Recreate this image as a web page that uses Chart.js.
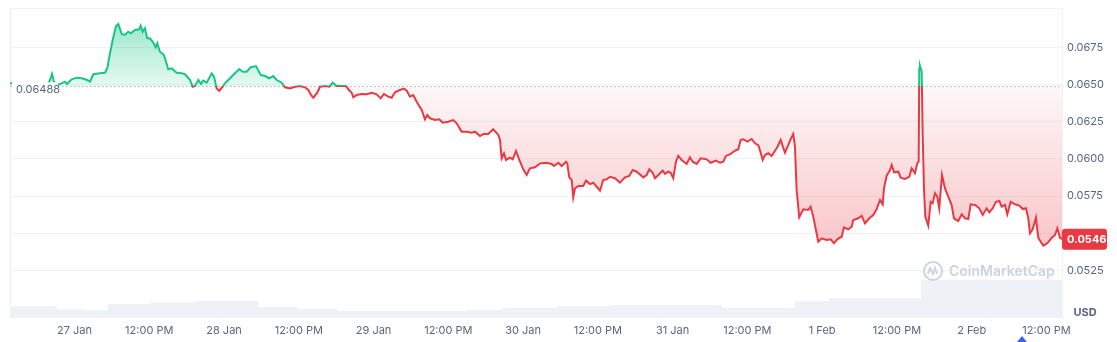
<!DOCTYPE html>
<html><head><meta charset="utf-8">
<script src="https://cdn.jsdelivr.net/npm/chart.js@4.4.1/dist/chart.umd.min.js"></script>
<style>html,body{margin:0;padding:0;background:#fff;}canvas{display:block;}</style>
</head><body>
<canvas id="c" width="1117" height="342"></canvas>
<script>
// Time in hours relative to 27 Jan 00:00
const hours = [
-10.35,-9.39,-8.10,-6.82,-5.54,-4.25,-3.93,-3.61,-3.29,-2.81,
-2.33,-1.52,-1.20,-0.45,0.35,1.16,2.05,2.49,3.02,4.09,
4.89,5.26,5.70,6.13,6.66,7.03,7.58,8.10,8.63,9.02,
9.71,10.40,10.62,10.95,11.31,11.68,12.12,12.65,13.03,13.29,
13.72,14.36,15.05,15.60,16.40,17.20,17.73,18.54,18.97,19.34,
19.87,20.30,20.67,21.22,22.02,22.39,22.82,23.24,23.88,24.15,
24.96,25.76,26.45,27.00,27.64,28.28,29.13,29.88,30.57,31.26,
31.91,32.45,33.25,33.78,34.59,35.39,36.19,36.99,37.52,38.07,
38.33,38.97,39.40,40.20,40.89,41.44,42.08,42.88,43.57,43.94,
44.49,44.74,45.29,46.09,46.90,47.70,48.50,49.14,49.67,50.36,
50.91,51.44,52.24,52.89,53.32,53.85,54.37,54.92,55.72,56.25,
56.62,57.05,57.86,58.55,59.09,59.99,60.79,61.34,62.14,62.94,
63.75,64.28,65.08,65.61,66.41,67.21,68.02,68.29,68.56,68.93,
69.25,69.89,70.33,70.86,71.39,72.03,72.57,73.10,73.91,74.71,
75.78,76.59,76.96,77.65,78.19,78.88,79.09,79.41,79.80,80.05,
80.33,80.85,81.66,82.09,82.73,83.26,83.81,84.34,84.87,85.41,
85.94,86.74,87.55,88.35,89.04,89.59,90.23,91.29,91.83,92.25,
92.80,93.17,93.70,94.40,94.77,95.30,95.68,96.10,96.53,96.90,
97.45,98.25,98.78,99.21,99.86,100.50,101.46,102.10,102.95,103.60,
104.13,104.56,105.31,106.00,106.53,106.92,107.34,107.98,108.68,109.21,
109.74,110.13,110.45,110.82,111.35,111.89,112.42,112.79,113.34,113.66,
114.03,114.56,114.94,115.36,115.63,115.90,116.32,116.97,117.77,118.15,
118.57,119.00,119.37,119.92,120.72,121.36,121.89,122.42,123.13,123.50,
124.19,124.73,124.99,125.79,126.34,126.87,127.56,128.20,128.75,129.28,
129.71,129.92,130.35,130.88,131.16,131.53,132.22,132.60,133.29,133.98,
134.36,134.89,135.26,135.49,135.58,135.69,135.97,136.13,136.34,136.55,
137.03,137.41,137.73,138.10,138.47,138.79,139.23,139.71,140.24,140.78,
141.15,141.84,142.39,142.92,143.45,143.83,144.52,145.21,145.76,146.40,
146.82,147.37,147.90,148.43,148.81,149.34,149.71,150.26,150.95,151.64,
152.18,152.71,153.08,153.35,153.79,154.31,154.68,155.49,156.13,156.84,
157.37,157.74,158.17,158.49
];
const price = [
0.06510,0.06500,0.06497,0.06503,0.06497,0.06503,0.06530,0.06571,0.06517,0.06497,
0.06503,0.06519,0.06503,0.06535,0.06546,0.06542,0.06530,0.06519,0.06569,0.06575,
0.06579,0.06609,0.06710,0.06799,0.06893,0.06907,0.06839,0.06833,0.06855,0.06844,
0.06866,0.06871,0.06895,0.06855,0.06878,0.06810,0.06810,0.06781,0.06750,0.06777,
0.06720,0.06698,0.06602,0.06609,0.06579,0.06575,0.06569,0.06530,0.06485,0.06490,
0.06530,0.06503,0.06526,0.06512,0.06575,0.06552,0.06474,0.06458,0.06490,0.06508,
0.06542,0.06575,0.06604,0.06586,0.06586,0.06616,0.06624,0.06564,0.06557,0.06542,
0.06557,0.06530,0.06512,0.06481,0.06474,0.06485,0.06490,0.06481,0.06463,0.06423,
0.06411,0.06445,0.06485,0.06490,0.06485,0.06512,0.06490,0.06490,0.06490,0.06468,
0.06445,0.06414,0.06429,0.06436,0.06434,0.06445,0.06434,0.06407,0.06436,0.06418,
0.06411,0.06448,0.06463,0.06472,0.06458,0.06418,0.06429,0.06384,0.06329,0.06266,
0.06295,0.06273,0.06261,0.06266,0.06243,0.06250,0.06261,0.06239,0.06183,0.06183,
0.06176,0.06183,0.06154,0.06167,0.06167,0.06199,0.06161,0.06127,0.06004,0.06038,
0.05993,0.06008,0.05997,0.06053,0.05993,0.05930,0.05892,0.05937,0.05944,0.05970,
0.05974,0.05966,0.05952,0.05974,0.05952,0.05981,0.05970,0.05876,0.05858,0.05742,
0.05802,0.05818,0.05818,0.05854,0.05831,0.05840,0.05813,0.05786,0.05858,0.05863,
0.05880,0.05870,0.05840,0.05876,0.05885,0.05925,0.05914,0.05876,0.05892,0.05930,
0.05907,0.05870,0.05892,0.05921,0.05899,0.05914,0.05907,0.05870,0.05981,0.06020,
0.05993,0.05966,0.06011,0.05981,0.05966,0.06004,0.05997,0.05974,0.05988,0.05974,
0.05981,0.06020,0.06033,0.06055,0.06065,0.06127,0.06132,0.06116,0.06134,0.06105,
0.06093,0.06042,0.05993,0.06026,0.06038,0.06020,0.06055,0.06078,0.06127,0.06087,
0.06042,0.06093,0.06132,0.06167,0.06082,0.05791,0.05608,0.05661,0.05657,0.05679,
0.05612,0.05522,0.05444,0.05466,0.05455,0.05460,0.05433,0.05460,0.05477,0.05540,
0.05527,0.05544,0.05589,0.05601,0.05618,0.05567,0.05601,0.05623,0.05663,0.05724,
0.05695,0.05802,0.05887,0.05925,0.05959,0.05910,0.05914,0.05874,0.05865,0.05880,
0.05937,0.05903,0.05970,0.05981,0.06609,0.06626,0.06586,0.06161,0.05802,0.05612,
0.05551,0.05712,0.05702,0.05769,0.05746,0.05668,0.05892,0.05802,0.05746,0.05690,
0.05601,0.05583,0.05628,0.05601,0.05596,0.05695,0.05690,0.05668,0.05623,0.05668,
0.05641,0.05668,0.05712,0.05717,0.05679,0.05690,0.05628,0.05712,0.05695,0.05686,
0.05663,0.05668,0.05601,0.05500,0.05529,0.05605,0.05470,0.05417,0.05433,0.05470,
0.05489,0.05534,0.05470,0.05460
];
const openPrice = 0.06488;
const lastPrice = 0.0546;
// Volume (USD millions), step segments
const volHours = [-10.35,-2.81,1.85,5.38,12.28,19.18,29.45,35.87,42.13,62.83,68.61,77.43,86.10,103.91,115.63,121.09,135.85,158.49];
const volume   = [1.20,0.87,0.77,1.43,1.57,1.70,1.10,0.93,0.70,0.80,1.03,1.20,1.30,1.03,1.67,1.97,3.83,3.83];
const tickHours = [0,12,24,36,48,60,72,84,96,108,120,132,144,156];
const tickLabels = ['27 Jan','12:00 PM','28 Jan','12:00 PM','29 Jan','12:00 PM','30 Jan','12:00 PM','31 Jan','12:00 PM','1 Feb','12:00 PM','2 Feb','12:00 PM'];
const priceTicks = [0.0525,0.0550,0.0575,0.0600,0.0625,0.0650,0.0675];

const GREEN = '#16c784', RED = '#ea3943', GRID = '#eff2f5', TXT = '#58667e';
const FONT = 'Inter, "Noto Sans", sans-serif';

function baseY(chart){ return chart.scales.y.getPixelForValue(openPrice); }

function lineColor(ctx){
  const chart = ctx.chart, a = chart.chartArea;
  if (!a || !chart.scales.y) return RED;
  const g = chart.ctx.createLinearGradient(0, a.top, 0, a.bottom);
  const t = Math.min(1, Math.max(0, (baseY(chart) - a.top) / (a.bottom - a.top)));
  g.addColorStop(0, GREEN); g.addColorStop(t, GREEN);
  g.addColorStop(t, RED); g.addColorStop(1, RED);
  return g;
}
function fillOpt(ctx){
  const chart = ctx.chart, a = chart.chartArea;
  if (!a || !chart.scales.y) return {value: openPrice, above: 'rgba(22,199,132,0.25)', below: 'rgba(234,57,67,0.12)'};
  const by = baseY(chart);
  const ga = chart.ctx.createLinearGradient(0, by, 0, a.top);
  ga.addColorStop(0, 'rgba(22,199,132,0.10)');
  ga.addColorStop(0.8, 'rgba(22,199,132,0.42)');
  ga.addColorStop(1, 'rgba(22,199,132,0.45)');
  const gb = chart.ctx.createLinearGradient(0, by, 0, a.bottom);
  gb.addColorStop(0, 'rgba(234,57,67,0.04)');
  gb.addColorStop(1, 'rgba(234,57,67,0.40)');
  return {value: openPrice, above: ga, below: gb};
}

const decor = {
  id: 'decor',
  beforeDatasetsDraw(chart){
    const c = chart.ctx, a = chart.chartArea;
    c.save();
    c.strokeStyle = GRID; c.lineWidth = 1;
    c.beginPath();
    c.moveTo(a.left + 0.5, a.top); c.lineTo(a.left + 0.5, a.bottom);
    c.moveTo(a.left, a.top + 0.5); c.lineTo(a.right, a.top + 0.5);
    c.stroke();
    // dotted open-price line
    const by = Math.round(baseY(chart)) + 0.5;
    c.strokeStyle = '#a9b2c0'; c.setLineDash([1.5, 2.5]);
    c.beginPath(); c.moveTo(a.left, by); c.lineTo(a.right, by); c.stroke();
    c.restore();
  },
  afterDatasetsDraw(chart){
    const c = chart.ctx, a = chart.chartArea;
    const by = baseY(chart);
    c.save();
    c.fillStyle = '#ffffff';
    c.fillRect(a.left + 2, by - 4, 46, 15);
    c.fillStyle = TXT; c.font = '11px ' + FONT;
    c.textBaseline = 'middle'; c.textAlign = 'left';
    c.fillText(openPrice.toFixed(5), a.left + 6, by + 3);
    // watermark
    const wx = 933, wy = 271;
    c.strokeStyle = '#cdd3dd'; c.lineWidth = 2;
    c.beginPath(); c.arc(wx, wy, 9, 0, Math.PI * 2); c.stroke();
    c.beginPath();
    c.moveTo(wx - 5, wy + 3); c.lineTo(wx - 3, wy - 3); c.lineTo(wx, wy + 3);
    c.lineTo(wx + 2, wy - 3); c.lineTo(wx + 4, wy + 3);
    c.stroke();
    c.fillStyle = '#cdd3dd'; c.font = '600 14px ' + FONT;
    c.fillText('CoinMarketCap', 949, wy + 1);
    c.restore();
  },
  afterDraw(chart){
    const c = chart.ctx, a = chart.chartArea;
    const y = chart.scales.y.getPixelForValue(lastPrice);
    c.save();
    c.fillStyle = RED;
    c.beginPath();
    if (c.roundRect) c.roundRect(a.right, y - 10.5, 45, 21, 3); else c.rect(a.right, y - 10.5, 45, 21);
    c.fill();
    c.fillStyle = '#fff'; c.font = 'bold 11px ' + FONT;
    c.textBaseline = 'middle'; c.textAlign = 'left';
    c.fillText(lastPrice.toFixed(4), a.right + 5, y + 0.5);
    c.fillStyle = TXT; c.font = 'bold 11px ' + FONT; c.textAlign = 'center';
    c.fillText('USD', 1085, 313);
    // blue marker at bottom
    c.fillStyle = '#3861fb';
    c.beginPath(); c.moveTo(1022, 336); c.lineTo(1027, 342); c.lineTo(1017, 342); c.closePath(); c.fill();
    c.restore();
  }
};

new Chart(document.getElementById('c'), {
  type: 'line',
  data: {
    datasets: [{
      label: 'Price',
      data: hours.map((h, i) => ({x: h, y: price[i]})),
      yAxisID: 'y',
      borderColor: lineColor,
      borderWidth: 2,
      pointRadius: 0,
      tension: 0,
      fill: fillOpt,
      order: 0
    }, {
      label: 'Volume',
      data: volHours.map((h, i) => ({x: h, y: volume[i]})),
      yAxisID: 'yv',
      stepped: true,
      borderWidth: 0,
      borderColor: 'rgba(0,0,0,0)',
      backgroundColor: '#eef1f5',
      pointRadius: 0,
      fill: 'origin',
      order: 1
    }]
  },
  options: {
    responsive: false,
    devicePixelRatio: 1,
    animation: false,
    layout: {padding: {left: 10, top: 8, right: 0, bottom: 0}},
    plugins: {legend: {display: false}, tooltip: {enabled: false}},
    scales: {
      x: {
        type: 'linear',
        min: hours[0], max: hours[hours.length - 1],
        grid: {display: false, drawTicks: false},
        border: {display: false},
        afterBuildTicks: s => { s.ticks = tickHours.map(v => ({value: v})); },
        afterFit: s => { s.height = 24; s.paddingLeft = 0; s.paddingRight = 0; },
        ticks: {
          autoSkip: false, maxRotation: 0, padding: 6,
          color: TXT, font: {family: FONT, size: 11},
          callback: v => { const i = tickHours.indexOf(v); return i >= 0 ? tickLabels[i] : ''; }
        }
      },
      y: {
        position: 'right',
        min: 0.04931, max: 0.07014,
        grid: {color: GRID, drawTicks: false},
        border: {color: GRID},
        afterBuildTicks: s => { s.ticks = priceTicks.map(v => ({value: v})); },
        afterFit: s => { s.width = 55; s.paddingTop = 0; s.paddingBottom = 0; },
        ticks: {
          padding: 5, color: TXT, font: {family: FONT, size: 11},
          callback: v => v.toFixed(4)
        }
      },
      yv: {display: false, min: 0, max: 31}
    }
  },
  plugins: [decor]
});
</script>
</body></html>
